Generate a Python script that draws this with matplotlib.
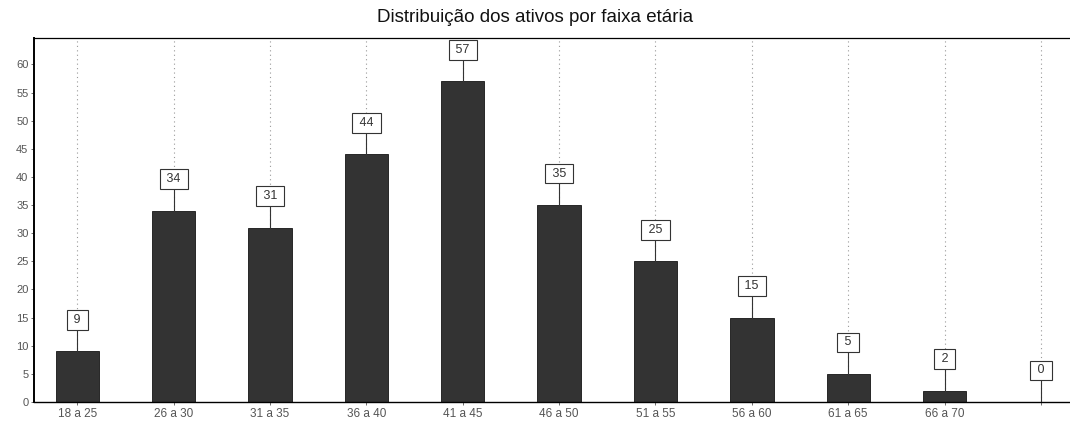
import numpy as np
import matplotlib.pyplot as plt

# faixas etarias e quantidade de ativos
faixas = ['18 a 25', '26 a 30', '31 a 35', '36 a 40', '41 a 45', '46 a 50',
          '51 a 55', '56 a 60', '61 a 65', '66 a 70', '']
ativos = [9, 34, 31, 44, 57, 35, 25, 15, 5, 2, 0]
yticks = list(range(0, 61, 5))

plt.rcParams['font.family'] = ['Liberation Sans', 'DejaVu Sans']

fig = plt.figure(figsize=(10.7, 4.24), dpi=100)
ax = fig.add_axes([0.0318, 0.0519, 0.968, 0.8585])

x = np.arange(len(faixas))
for xi in x:
    ax.axvline(xi, color='#999999', linestyle=(0, (1, 3)), linewidth=0.8, zorder=0)

ax.bar(x, ativos, width=0.45, color='#333333', edgecolor='#151515',
       linewidth=0.6, zorder=2)

# caixas com os valores e a haste
for xi, v in zip(x, ativos):
    ax.plot([xi, xi], [v, v + 4.0], color='#333333', linewidth=0.8, zorder=3)
    ax.text(xi, v + 5.6, ' %d ' % v, ha='center', va='center', fontsize=9,
            color='#333333', zorder=4,
            bbox=dict(boxstyle='square,pad=0.3', fc='white', ec='#333333', lw=0.8))

ax.set_xlim(-0.45, 10.3)
ax.set_ylim(0, 64.7)
ax.set_xticks(x)
ax.set_xticklabels(faixas, fontsize=8.5, color='#555555')
ax.set_yticks(yticks)
ax.set_yticklabels([str(t) for t in yticks], fontsize=8, color='#555555')
ax.tick_params(axis='both', length=2, width=0.6, color='#555555', pad=2)

ax.spines['right'].set_visible(False)
ax.spines['left'].set_linewidth(1.4)
ax.spines['top'].set_linewidth(0.9)
ax.spines['bottom'].set_linewidth(1.0)

fig.text(0.5, 0.958, 'Distribuição dos ativos por faixa etária', ha='center',
         va='center', fontsize=13.5, color='#111111')

fig.savefig('out.png', dpi=100)
